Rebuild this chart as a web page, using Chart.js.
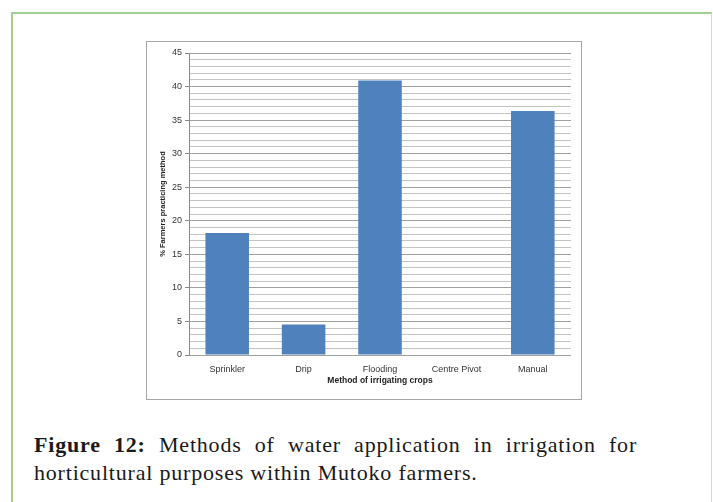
<!DOCTYPE html>
<html>
<head>
<meta charset="utf-8">
<script src="https://cdn.jsdelivr.net/npm/chart.js@4/dist/chart.umd.min.js"></script>
<style>
  body { margin: 0; background: #fff; width: 713px; height: 502px; position: relative; overflow: hidden; }
  #frame { position: absolute; left: 11px; top: 12px; width: 698px; height: 520px;
           border-top: 2px solid #a3d08f; border-left: 2px solid #a3d08f; border-right: 1px solid #d8d8d8; }
  #box { position: absolute; left: 146px; top: 41px; width: 434px; height: 357px; border: 1px solid #a6a6a6; }
  #caption { position: absolute; left: 34px; top: 431px; width: 603px; font-family: "Liberation Serif", serif;
             font-size: 22px; line-height: 28px; color: #1a1a1a; letter-spacing: 0.8px; }
  #caption .l1 { text-align: justify; text-align-last: justify; }
</style>
</head>
<body>
<div id="frame"></div>
<div id="box"><canvas id="chart" width="434" height="357"></canvas></div>
<div id="caption">
  <div class="l1"><b>Figure 12:</b> Methods of water application in irrigation for</div>
  <div>horticultural purposes within Mutoko farmers.</div>
</div>
<script>
// categories and % of farmers per method
const methods = ['Sprinkler', 'Drip', 'Flooding', 'Centre Pivot', 'Manual'];
const percentFarmers = [18.18, 4.55, 40.91, 0, 36.36];
const yMax = 45;
const yMajorStep = 5;

const ctx = document.getElementById('chart').getContext('2d');
const chart = new Chart(ctx, {
    type: 'bar',
    data: {
        labels: methods,
        datasets: [{
            data: percentFarmers,
            backgroundColor: '#4f81bd',
            categoryPercentage: 1,
            barPercentage: 0.57
        }]
    },
    options: {
        responsive: false,
        animation: false,
        layout: { padding: { top: 11, right: 10, bottom: 0, left: 0 } },
        plugins: { legend: { display: false }, tooltip: { enabled: false } },
        scales: {
            x: {
                grid: { display: false, drawTicks: false },
                border: { display: false },
                ticks: { color: '#333', padding: 9, font: { family: 'Liberation Sans', size: 9 } },
                title: {
                    display: true,
                    text: 'Method of irrigating crops',
                    color: '#222',
                    padding: { top: 0, bottom: 13 },
                    font: { family: 'Liberation Sans', size: 8.5, weight: 'bold' }
                },
                afterFit: scale => { scale.height = 44; }
            },
            y: {
                min: 0,
                max: yMax,
                ticks: {
                    stepSize: 1,
                    autoSkip: false,
                    padding: 3,
                    color: '#333',
                    font: { family: 'Liberation Sans', size: 9 },
                    callback: v => (v % yMajorStep === 0 ? v : '')
                },
                grid: {
                    color: c => (c.tick && c.tick.value % yMajorStep === 0 ? '#a0a0a0' : '#c4c4c4'),
                    tickColor: c => (c.tick && c.tick.value % yMajorStep === 0 ? '#8a8a8a' : 'rgba(0,0,0,0)'),
                    tickLength: 4
                },
                border: { color: '#8a8a8a' },
                title: {
                    display: true,
                    text: '% Farmers practicing method',
                    color: '#222',
                    padding: { top: 11, bottom: 0 },
                    font: { family: 'Liberation Sans', size: 7.5, weight: 'bold' }
                },
                afterFit: scale => { scale.width = 42; }
            }
        }
    }
});
</script>
</body>
</html>
